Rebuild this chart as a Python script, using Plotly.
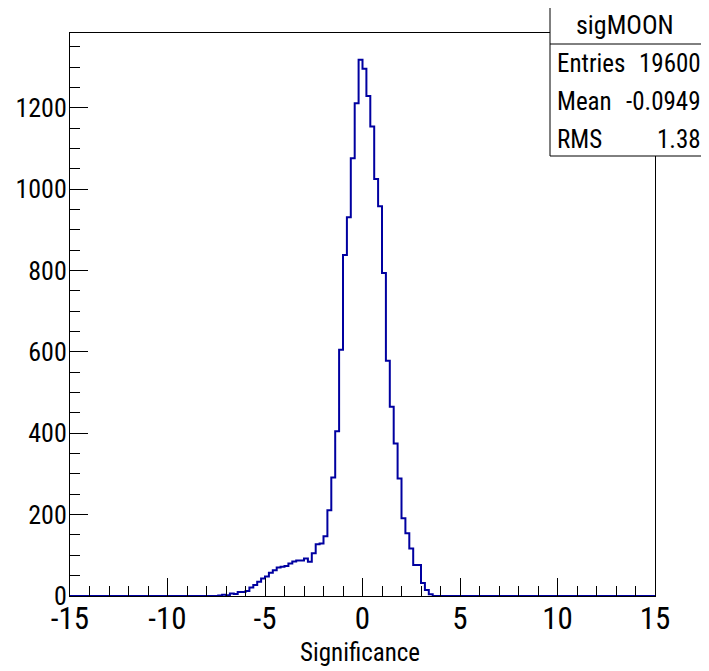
import plotly.graph_objects as go

# Histogram definition (ROOT TH1: 150 bins from -15 to 15)
x_min = -15.0
x_max = 15.0
n_bins = 150
bin_width = (x_max - x_min) / n_bins

# Non-empty bin contents, starting at the bin whose low edge is first_edge
first_edge = -7.4
counts = [
    1, 3, 2, 6, 5, 10, 10, 12, 21, 27,          # -7.4 .. -5.6
    35, 43, 48, 57, 63, 70, 72, 74, 80, 85,     # -5.4 .. -3.6
    87, 87, 92, 84, 105, 127, 129, 147, 211, 291,  # -3.4 .. -1.6
    405, 605, 838, 931, 1076, 1211, 1318, 1296, 1229, 1154,  # -1.4 .. 0.4
    1025, 958, 794, 578, 465, 375, 289, 191, 154, 117,  # 0.6 .. 2.4
    76, 76, 32, 15, 4,                          # 2.6 .. 3.4
]

stats_title = "sigMOON"
stats_labels = ["Entries", "Mean", "RMS"]
stats_values = ["19600", "-0.0949", "1.38"]

x_tickvals = [-15, -10, -5, 0, 5, 10, 15]
x_ticktext = ["-15", "-10", "-5", "0", "5", "10", "15"]
y_tickvals = [0, 200, 400, 600, 800, 1000, 1200]
y_ticktext = ["0", "200", "400", "600", "800", "1000", "1200"]
x_title = "Significance"

# build full bin array
n_lead = int(round((first_edge - x_min) / bin_width))
full = [0] * n_lead + counts
full = full + [0] * (n_bins - len(full))
edges = [x_min + i * bin_width for i in range(n_bins + 1)]
xs = edges
ys = full + [full[-1]]

y_top = max(full) * 1.05

FONT = "Roboto Condensed, Liberation Sans, Arial, sans-serif"

fig = go.Figure()
fig.add_trace(go.Scatter(
    x=xs, y=ys, mode="lines", line=dict(shape="hv", color="#0000a0", width=2),
    hoverinfo="skip", showlegend=False,
))

# page has an 8px body margin: figure sized / placed to compensate
OFF = 8
PW, PH = 709, 671
W, H = PW - OFF, PH - OFF
L, R, T, B = 70, 655, 33, 596   # plot frame in page pixels
fig.update_layout(
    width=W, height=H,
    margin=dict(l=L - OFF, r=PW - R, t=T - OFF, b=PH - B, pad=0),
    paper_bgcolor="white", plot_bgcolor="white",
    font=dict(family=FONT, color="black"),
    xaxis=dict(
        range=[x_min, x_max], tickvals=x_tickvals, ticktext=x_ticktext,
        ticks="inside", ticklen=18, automargin=False, ticklabelstandoff=-5,
        tickcolor="black", tickwidth=1, showgrid=False, zeroline=False,
        showline=True, linecolor="black", linewidth=1, mirror=True,
        tickfont=dict(size=31, family=FONT, color="black"),
        minor=dict(dtick=1, ticks="inside", ticklen=10, tickcolor="black", showgrid=False),
    ),
    yaxis=dict(
        range=[0, y_top], tickvals=y_tickvals, ticktext=y_ticktext,
        ticks="inside", ticklen=18, automargin=False, ticklabelstandoff=-3,
        tickcolor="black", tickwidth=1, showgrid=False, zeroline=False,
        showline=True, linecolor="black", linewidth=1, mirror=True,
        tickfont=dict(size=26, family=FONT, color="black"),
        minor=dict(dtick=50, ticks="inside", ticklen=10, tickcolor="black", showgrid=False),
    ),
)

pw, ph = R - L, B - T
def px(xp):
    return (xp - L) / pw
def py(yp):
    return (B - yp) / ph

fig.add_annotation(xref="paper", yref="paper", x=px(360), y=py(652), text=x_title,
                   showarrow=False, xanchor="center", yanchor="middle",
                   font=dict(size=25, family=FONT, color="black"))

# stats box
bx0, bx1, by0, by1 = 550, 712, -3, 156
row_h = 38
head_bottom = 44
fig.add_shape(type="rect", xref="paper", yref="paper",
              x0=px(bx0), x1=px(bx1), y0=py(by1), y1=py(by0),
              line=dict(color="black", width=1), fillcolor="white", layer="above")
fig.add_shape(type="line", xref="paper", yref="paper",
              x0=px(bx0), x1=px(bx1), y0=py(head_bottom), y1=py(head_bottom),
              line=dict(color="black", width=1), layer="above")
fig.add_annotation(xref="paper", yref="paper", x=px(625), y=py(25),
                   text=stats_title, showarrow=False, xanchor="center", yanchor="middle",
                   font=dict(size=26, family=FONT, color="black"))
for i, (lab, val) in enumerate(zip(stats_labels, stats_values)):
    yc = head_bottom + row_h * (i + 0.5)
    fig.add_annotation(xref="paper", yref="paper", x=px(555), y=py(yc), text=lab,
                       showarrow=False, xanchor="left", yanchor="middle",
                       font=dict(size=25, family=FONT, color="black"))
    fig.add_annotation(xref="paper", yref="paper", x=px(703), y=py(yc), text=val,
                       showarrow=False, xanchor="right", yanchor="middle",
                       font=dict(size=25, family=FONT, color="black"))

fig.write_html("out.html")
